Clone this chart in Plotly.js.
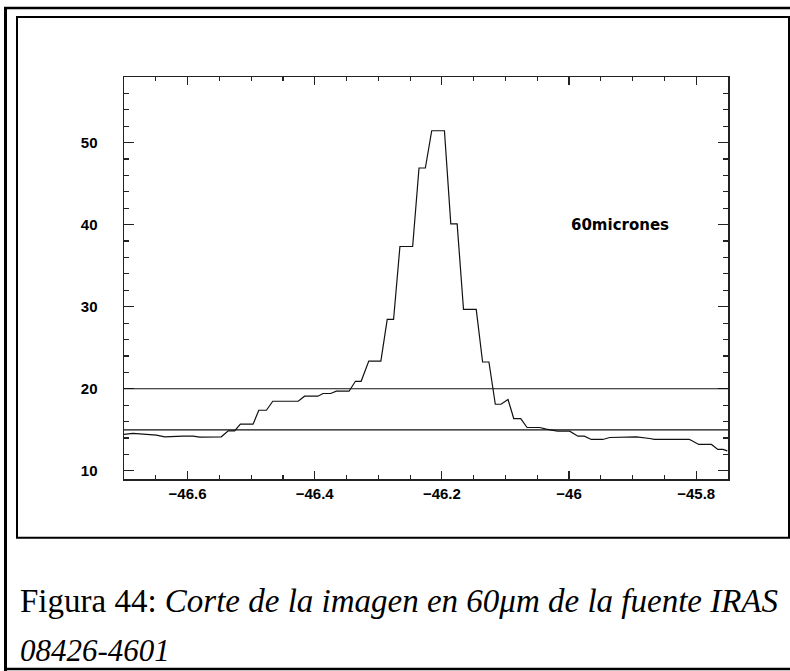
<!DOCTYPE html>
<html>
<head>
<meta charset="utf-8">
<script src="https://cdn.plot.ly/plotly-3.0.1.min.js"></script>
<style>
  html, body { margin: 0; padding: 0; background: #ffffff; }
  #chart { width: 790px; height: 671px; }
</style>
</head>
<body>
<div id="chart"></div>
<script>
// ---- Data ----
var xVals = [-46.700, -46.686, -46.649, -46.636, -46.607, -46.591, -46.581, -46.547,
  -46.536, -46.526, -46.517, -46.497, -46.488, -46.476, -46.466, -46.426,
  -46.416, -46.395, -46.387, -46.375, -46.366, -46.346, -46.336, -46.327,
  -46.315, -46.296, -46.286, -46.276, -46.266, -46.246, -46.236, -46.226,
  -46.216, -46.196, -46.186, -46.176, -46.166, -46.146, -46.136, -46.126,
  -46.116, -46.107, -46.096, -46.087, -46.076, -46.066, -46.046, -46.036,
  -46.018, -45.999, -45.986, -45.976, -45.965, -45.947, -45.936, -45.915,
  -45.894, -45.873, -45.866, -45.811, -45.808, -45.796, -45.776, -45.766,
  -45.758, -45.751];
var yVals = [14.43, 14.55, 14.34, 14.14, 14.22, 14.22, 14.10, 14.14,
  14.87, 14.87, 15.68, 15.68, 17.38, 17.38, 18.48, 18.48,
  19.09, 19.09, 19.42, 19.42, 19.70, 19.70, 20.91, 20.91,
  23.38, 23.38, 28.45, 28.45, 37.34, 37.34, 46.91, 46.91,
  51.45, 51.45, 40.10, 40.10, 29.67, 29.67, 23.26, 23.26,
  18.11, 18.11, 18.69, 16.37, 16.37, 15.28, 15.28, 15.07,
  14.83, 14.83, 14.22, 14.22, 13.82, 13.82, 14.06, 14.14,
  14.14, 13.94, 13.82, 13.82, 13.73, 13.21, 13.21, 12.60,
  12.60, 12.43];
var thresholds = [20, 15];
var xRange = [-46.7, -45.75];
var yRange = [9, 58];
var annotationLabel = "60micrones";
var annotationPos = [-46.0, 40];
var captionLine1 = "Figura 44: <i>Corte de la imagen en 60\u03bcm de la fuente IRAS</i>";
var captionLine2 = "<i>08426-4601</i>";

// ---- Layout geometry helpers (page pixels -> paper coords) ----
var W = 790, H = 671;
var M = {l: 124, r: 62, t: 77, b: 192};
var PW = W - M.l - M.r, PH = H - M.t - M.b;
function px(x) { return (x - M.l) / PW; }
function py(y) { return (H - M.b - y) / PH; }

var tickFont = {family: "Liberation Sans, Arial, sans-serif", size: 15, color: "#000", weight: "bold"};
var labelFont = {family: "DejaVu Sans, Liberation Sans, sans-serif", size: 15, color: "#000", weight: "bold"};
var serif = "Liberation Serif, DejaVu Serif, serif";

var traces = [{
  type: "scatter", mode: "lines",
  x: xVals, y: yVals,
  line: {color: "#111", width: 1.2},
  hoverinfo: "skip", showlegend: false
}];

var shapes = thresholds.map(function (v) {
  return {type: "line", xref: "paper", x0: 0, x1: 1, yref: "y", y0: v, y1: v,
          line: {color: "#111", width: 1.2}};
});
// figure frames
shapes.push({type: "line", xref: "paper", yref: "paper", x0: px(5.5), x1: px(5.5), y0: py(7), y1: py(675), line: {color: "#000", width: 3}});
shapes.push({type: "line", xref: "paper", yref: "paper", x0: px(4), x1: px(795), y0: py(8), y1: py(8), line: {color: "#000", width: 2.5}});
shapes.push({type: "line", xref: "paper", yref: "paper", x0: px(4), x1: px(795), y0: py(669), y1: py(669), line: {color: "#000", width: 2.5}});
shapes.push({type: "rect", xref: "paper", yref: "paper", x0: px(17), x1: px(789), y0: py(17), y1: py(537.7), line: {color: "#000", width: 2}});

var layout = {
  width: W, height: H,
  margin: {l: M.l, r: M.r, t: M.t, b: M.b, pad: 0},
  paper_bgcolor: "#fff", plot_bgcolor: "#fff",
  showlegend: false,
  xaxis: {
    range: xRange, tick0: -46.6, dtick: 0.2,
    ticks: "inside", ticklen: 8, tickwidth: 1.2, tickcolor: "#222",
    minor: {ticks: "inside", dtick: 0.05, ticklen: 4, tickwidth: 1.2, tickcolor: "#222", showgrid: false},
    showline: true, linecolor: "#222", linewidth: 1.5, mirror: "ticks",
    showgrid: false, zeroline: false,
    tickfont: tickFont, ticklabelstandoff: 0
  },
  yaxis: {
    range: yRange, tick0: 10, dtick: 10,
    ticks: "inside", ticklen: 10, tickwidth: 1.2, tickcolor: "#222",
    minor: {ticks: "inside", dtick: 2, ticklen: 5, tickwidth: 1.2, tickcolor: "#222", showgrid: false},
    showline: true, linecolor: "#222", linewidth: 1.5, mirror: "ticks",
    showgrid: false, zeroline: false,
    tickfont: tickFont, ticklabelstandoff: 22
  },
  shapes: shapes,
  annotations: [
    {x: annotationPos[0], y: annotationPos[1], xref: "x", yref: "y", text: annotationLabel,
     showarrow: false, xanchor: "left", yanchor: "middle", font: labelFont},
    {x: px(18), y: py(601), xref: "paper", yref: "paper", text: captionLine1,
     showarrow: false, xanchor: "left", yanchor: "middle",
     font: {family: serif, size: 33, color: "#000"}},
    {x: px(18), y: py(650), xref: "paper", yref: "paper", text: captionLine2,
     showarrow: false, xanchor: "left", yanchor: "middle",
     font: {family: serif, size: 31, color: "#000"}}
  ]
};

Plotly.newPlot("chart", traces, layout, {staticPlot: true, displayModeBar: false});
</script>
</body>
</html>
